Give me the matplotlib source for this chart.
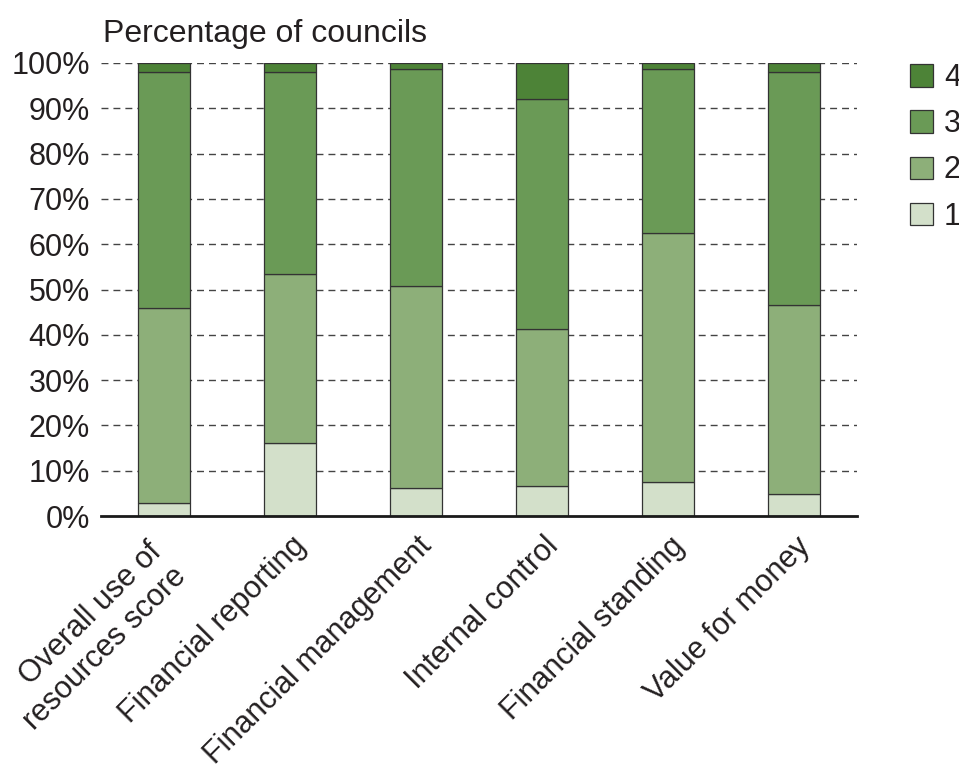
import matplotlib
matplotlib.use("Agg")
import matplotlib.pyplot as plt
import matplotlib.transforms as mtransforms
from matplotlib.patches import Patch
import numpy as np

categories = ["Overall use of\nresources score", "Financial reporting", "Financial management",
              "Internal control", "Financial standing", "Value for money"]
level1 = [2.9, 16.1, 6.2, 6.6, 7.5, 4.9]
level2 = [43.0, 37.3, 44.6, 34.7, 55.0, 41.7]
level3 = [52.1, 44.6, 47.9, 50.8, 36.2, 51.4]
level4 = [2.0, 2.0, 1.3, 7.9, 1.3, 2.0]
series_labels = ["1", "2", "3", "4"]
colors = ["#d3e0ca", "#8daf79", "#6a9a56", "#4d8337"]
yticks = [0, 10, 20, 30, 40, 50, 60, 70, 80, 90, 100]

plt.rcParams['font.family'] = ['Liberation Sans', 'DejaVu Sans']
text_color = "#231f20"
FS = 22

fig = plt.figure(figsize=(9.59, 7.69), dpi=100)
W, H = 959, 769
ax = fig.add_axes([101 / W, (H - 516) / H, (857 - 101) / W, (516 - 63) / H])

x = np.arange(len(categories))
bottom = np.zeros(len(categories))
handles = []
for vals, col, lab in zip([level1, level2, level3, level4], colors, series_labels):
    ax.bar(x, vals, width=0.405, bottom=bottom, color=col, edgecolor="#333333",
           linewidth=0.9, zorder=3)
    bottom += np.array(vals)
    handles.append(Patch(facecolor=col, edgecolor="#333333", linewidth=0.9, label=lab))

ax.set_xlim(-0.5, 5.5)
ax.set_ylim(0, 100)
ax.set_yticks(yticks)
ax.set_yticklabels([f"{v}%" for v in yticks])
for v in yticks[1:]:
    ax.axhline(v, color="#444444", linewidth=1.0, linestyle=(0, (5, 3.6)), zorder=1)

for s in ["left", "right", "top"]:
    ax.spines[s].set_visible(False)
ax.spines["bottom"].set_linewidth(2.0)
ax.spines["bottom"].set_color("#1a1a1a")
ax.spines["bottom"].set_zorder(4)

ax.tick_params(axis="y", length=0, pad=8, labelsize=FS, labelcolor=text_color)
ax.tick_params(axis="x", length=0, pad=0, labelsize=FS, labelcolor=text_color)
ax.set_xticks(x)
ax.set_xticklabels(categories, rotation=45, ha="right", va="top",
                   rotation_mode="anchor", multialignment="right")
for i, lbl in enumerate(ax.get_xticklabels()):
    if "\n" in lbl.get_text():
        dx, dy = -17, -21
    else:
        dx, dy = 1, -15
    offset = mtransforms.ScaledTranslation(dx / 100, dy / 100, fig.dpi_scale_trans)
    lbl.set_transform(lbl.get_transform() + offset)

fig.text(103 / W, (H - 42) / H, "Percentage of councils", fontsize=FS + 1,
         color=text_color, ha="left", va="baseline")

leg = fig.legend(handles[::-1], series_labels[::-1], loc="upper left",
                 bbox_to_anchor=(910 / W, (H - 63) / H), frameon=False,
                 fontsize=FS, handlelength=0.75, handleheight=0.75,
                 labelspacing=0.53, handletextpad=0.36, borderpad=0, borderaxespad=0)
for t in leg.get_texts():
    t.set_color(text_color)

fig.savefig("out.png", dpi=100)
